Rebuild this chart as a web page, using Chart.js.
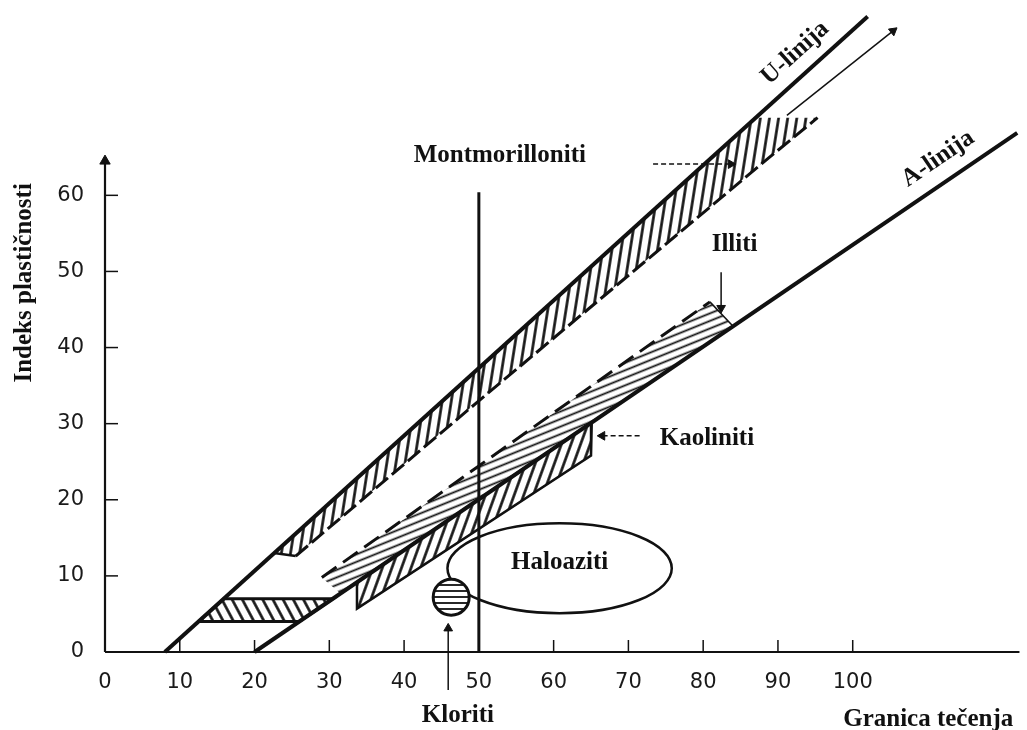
<!DOCTYPE html>
<html><head><meta charset="utf-8">
<script src="https://cdn.jsdelivr.net/npm/chart.js@4.4.1/dist/chart.umd.min.js"></script>
<style>html,body{margin:0;padding:0;background:#fff;}canvas{display:block;}</style>
</head><body>
<canvas id="c" width="1027" height="730"></canvas>
<script>
// ---- data (liquid limit LL on x, plasticity index PI on y) ----
const xTickValues = [0,10,20,30,40,50,60,70,80,90,100];
const yTickValues = [0,10,20,30,40,50,60];

const xAxisLL = [0, 122.3];   const xAxisPI = [0, 0];
const yAxisLL = [0, 0];       const yAxisPI = [0, 64.5];

const uLineLL = [8, 102];     const uLinePI = [0, 83.5];
const aLineLL = [20, 122];    const aLinePI = [0, 68.2];
const wl50LL  = [50, 50];     const wl50PI  = [0, 60.4];

const montLL = [22.6, 87, 95.3, 88, 50, 25.5, 22.6];
const montPI = [13.0, 70.2, 70.2, 64.3, 33.0, 12.6, 13.0];
const montEdgeLL = [25.5, 50, 88, 95.3];
const montEdgePI = [12.6, 33.0, 64.3, 70.2];
const montCapLL = [22.6, 25.5];
const montCapPI = [13.0, 12.6];

const illiteLL = [29, 80.9, 84, 31.5, 29];
const illitePI = [9.8, 46.0, 42.8, 7.7, 9.8];
const illiteEdgeLL = [29, 80.9];
const illiteEdgePI = [9.8, 46.0];
const illiteCapLL = [80.9, 84];
const illiteCapPI = [46.0, 42.8];

const kaolLL = [33.7, 65.1, 65.0, 33.7, 33.7];
const kaolPI = [9.2, 30.2, 25.8, 5.7, 9.2];

const clmlLL = [12.5, 15.9, 30.5, 26.0, 12.5];
const clmlPI = [4, 7, 7, 4, 4];

const haloCenterLL = 60.8, haloCenterPI = 11.0;
const haloRadLL = 15.0,    haloRadPI = 5.9;

const chlorLL = [46.3];  const chlorPI = [7.2];

const uArrowLL = [91.2, 105.4];  const uArrowPI = [70.5, 81.6];
const montArrowLL = [73.3, 83.7]; const montArrowPI = [64.1, 64.1];
const illArrowLL = [82.4, 82.4];  const illArrowPI = [49.9, 45.2];
const kaoArrowLL = [71.5, 66.5];  const kaoArrowPI = [28.4, 28.4];
const chlArrowLL = [45.9, 45.9];  const chlArrowPI = [-5.0, 3.1];

// ---- helpers ----
const INK = '#111';
function pts(ll, pi){ return ll.map((v,i)=>({x:v, y:pi[i]})); }
function hatch(spacing, lw, angle, bg){
  const c = document.createElement('canvas');
  c.width = 16; c.height = spacing;
  const g = c.getContext('2d');
  if (bg){ g.fillStyle = bg; g.fillRect(0,0,c.width,c.height); }
  g.fillStyle = INK;
  g.fillRect(0, (spacing-lw)/2, c.width, lw);
  const p = g.createPattern(c, 'repeat');
  p.setTransform(new DOMMatrix().rotate(angle));
  return p;
}
function arrowRot(ctx){
  const d = ctx.chart.data.datasets[ctx.datasetIndex].data;
  const sx = ctx.chart.scales.x, sy = ctx.chart.scales.y;
  const a = d[d.length-2], b = d[d.length-1];
  const dx = sx.getPixelForValue(b.x) - sx.getPixelForValue(a.x);
  const dy = sy.getPixelForValue(b.y) - sy.getPixelForValue(a.y);
  return Math.atan2(dx, -dy) * 180 / Math.PI;
}
function line(ll, pi, o){
  return Object.assign({data: pts(ll,pi), showLine:true, borderColor:INK, borderWidth:2,
    pointRadius:0, fill:false, tension:0, clip:false}, o||{});
}
function arrow(ll, pi, r, o){
  const n = ll.length;
  return line(ll, pi, Object.assign({borderWidth:1.5, pointStyle:'triangle',
    pointRadius: c => c.dataIndex === n-1 ? r : 0, pointRotation: arrowRot,
    pointBackgroundColor:INK, pointBorderColor:INK, pointBorderWidth:1}, o||{}));
}

const montPattern  = hatch(9, 2.6, -81);
const clmlPattern  = hatch(9, 2.6, 62);
const illitePattern= hatch(7, 1.8, -22);
const kaolPattern  = hatch(9, 2.6, -70);
const chlorPattern = hatch(6, 1.8, 0, '#fff');

const datasets = [
  arrow(xAxisLL, xAxisPI, 6, {borderWidth:2.2}),
  arrow(yAxisLL, yAxisPI, 6, {borderWidth:2.2}),
  line(uLineLL, uLinePI, {borderWidth:4}),
  line(aLineLL, aLinePI, {borderWidth:4}),
  line(wl50LL, wl50PI, {borderWidth:3}),
  arrow(uArrowLL, uArrowPI, 5),
  arrow(montArrowLL, montArrowPI, 5, {borderDash:[5,3]}),
  arrow(illArrowLL, illArrowPI, 5),
  arrow(kaoArrowLL, kaoArrowPI, 5, {borderDash:[5,3]}),
  arrow(chlArrowLL, chlArrowPI, 5),
  {data: pts(chlorLL, chlorPI), showLine:false, pointStyle:'circle', pointRadius:18,
   pointBackgroundColor: chlorPattern, pointBorderColor: INK, pointBorderWidth:3, clip:false},
  line(montEdgeLL, montEdgePI, {borderWidth:3, borderDash:[16,5]}),
  line(montCapLL, montCapPI, {borderWidth:2.5}),
  line(illiteEdgeLL, illiteEdgePI, {borderWidth:3, borderDash:[18,8]}),
  line(illiteCapLL, illiteCapPI, {borderWidth:1.5}),
  line(clmlLL, clmlPI, {borderWidth:3, fill:'shape', backgroundColor: clmlPattern}),
  line(kaolLL, kaolPI, {borderWidth:2.5, fill:'shape', backgroundColor: kaolPattern}),
  line(illiteLL, illitePI, {borderWidth:0, fill:'shape', backgroundColor: illitePattern}),
  line(montLL, montPI, {borderWidth:0, fill:'shape', backgroundColor: montPattern})
];

const SERIF = 'bold 25px "Liberation Serif", "Times New Roman", serif';
const decor = {
  id: 'decor',
  beforeDatasetsDraw(chart){
    const {ctx, scales:{x, y}} = chart;
    const cx = x.getPixelForValue(haloCenterLL), cy = y.getPixelForValue(haloCenterPI);
    const rx = Math.abs(x.getPixelForValue(haloCenterLL + haloRadLL) - cx);
    const ry = Math.abs(y.getPixelForValue(haloCenterPI + haloRadPI) - cy);
    ctx.save();
    ctx.beginPath(); ctx.ellipse(cx, cy, rx, ry, 0, 0, Math.PI*2);
    ctx.lineWidth = 2.5; ctx.strokeStyle = INK; ctx.stroke();
    ctx.restore();
  },
  afterDatasetsDraw(chart){
    const {ctx, scales:{x, y}} = chart;
    const x0 = x.getPixelForValue(0), y0 = y.getPixelForValue(0);
    ctx.save();
    ctx.strokeStyle = INK; ctx.lineWidth = 1.5;
    xTickValues.forEach(v => { if (!v) return; const px = x.getPixelForValue(v);
      ctx.beginPath(); ctx.moveTo(px, y0); ctx.lineTo(px, y0 - 12); ctx.stroke(); });
    yTickValues.forEach(v => { if (!v) return; const py = y.getPixelForValue(v);
      ctx.beginPath(); ctx.moveTo(x0, py); ctx.lineTo(x0 + 13, py); ctx.stroke(); });
    const ang = (ll, pi) => Math.atan2(y.getPixelForValue(pi[1]) - y.getPixelForValue(pi[0]),
                                       x.getPixelForValue(ll[1]) - x.getPixelForValue(ll[0]));
    const txt = (s, ll, pi, rot) => {
      ctx.save(); ctx.translate(x.getPixelForValue(ll), y.getPixelForValue(pi));
      if (rot) ctx.rotate(rot);
      ctx.font = SERIF; ctx.fillStyle = INK; ctx.textAlign = 'center'; ctx.textBaseline = 'middle';
      ctx.fillText(s, 0, 0); ctx.restore();
    };
    txt('Montmorilloniti', 52.8, 65.2);
    txt('U-linija', 92.3, 78.7, ang(uLineLL, uLinePI));
    txt('A-linija', 111.4, 64.8, ang(aLineLL, aLinePI));
    txt('Illiti', 84.2, 53.5);
    txt('Kaoliniti', 80.5, 28.0);
    txt('Haloaziti', 60.8, 11.7);
    txt('Kloriti', 47.2, -8.3);
    txt('Granica tečenja', 110.1, -8.9);
    txt('Indeks plastičnosti', -10.7, 48.5, -Math.PI/2);
    ctx.restore();
  }
};

const TICKFONT = {family: '"DejaVu Sans", sans-serif', size: 21};
new Chart(document.getElementById('c'), {
  type: 'scatter',
  data: { datasets },
  options: {
    responsive: false, animation: false, events: [],
    layout: { padding: 0 },
    plugins: { legend: {display:false}, tooltip: {enabled:false} },
    scales: {
      x: { type:'linear', min:0, max:120.5,
           grid:{display:false}, border:{display:false},
           afterBuildTicks: s => { s.ticks = xTickValues.map(v => ({value:v})); },
           afterFit: s => { s.height = 78; },
           ticks:{ autoSkip:false, maxRotation:0, padding:10, color:'#1a1a1a', font:TICKFONT } },
      y: { type:'linear', min:0, max:82.3,
           grid:{display:false}, border:{display:false},
           afterBuildTicks: s => { s.ticks = yTickValues.map(v => ({value:v})); },
           afterFit: s => { s.width = 105; },
           ticks:{ autoSkip:false, padding:13, color:'#1a1a1a', font:TICKFONT } }
    }
  },
  plugins: [decor]
});
</script>
</body></html>
